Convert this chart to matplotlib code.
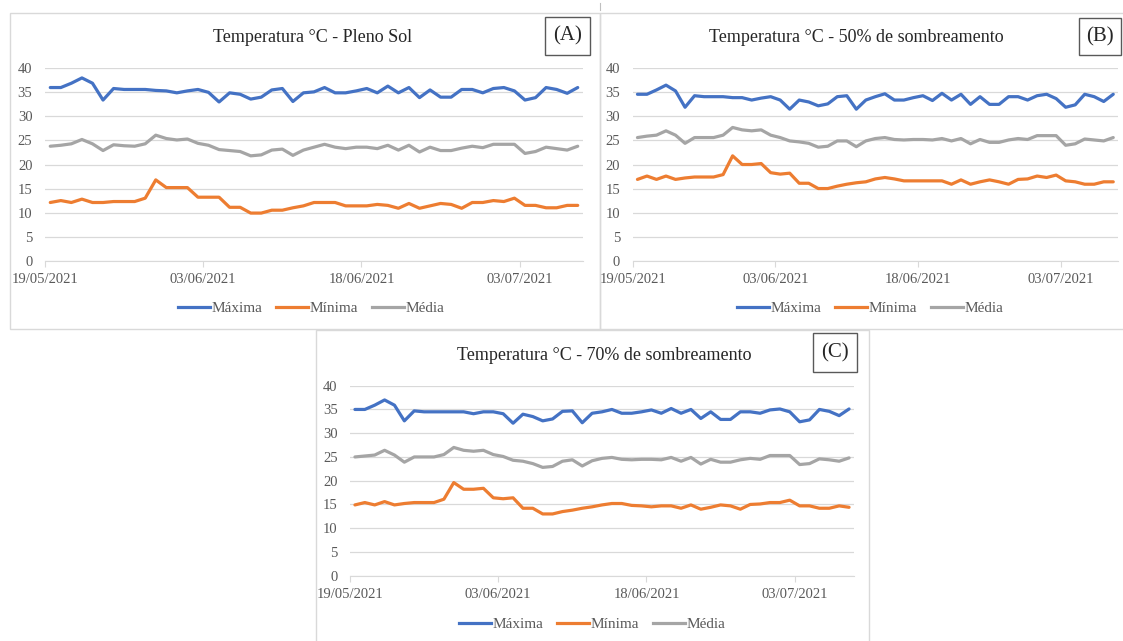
import matplotlib
matplotlib.use("Agg")
import matplotlib.pyplot as plt
from matplotlib.lines import Line2D
from matplotlib.patches import Rectangle
import pandas as pd

plt.rcParams['font.family'] = ['Liberation Serif', 'DejaVu Serif']

# Daily temperatures (°C), 19/05/2021 .. 08/07/2021
start_date = "2021-05-19"
n_days = 51
tick_dates = ["2021-05-19", "2021-06-03", "2021-06-18", "2021-07-03"]
series_names = ["Máxima", "Mínima", "Média"]

sol_max = [36.0, 36.0, 36.9, 38.0, 36.9, 33.4, 35.8, 35.6, 35.6, 35.6,
           35.4, 35.3, 34.9, 35.3, 35.6, 35.0, 33.0, 34.9, 34.6, 33.6,
           34.0, 35.5, 35.8, 33.1, 34.9, 35.1, 36.0, 34.9, 34.9, 35.3,
           35.8, 34.9, 36.3, 34.9, 36.0, 33.9, 35.5, 34.0, 34.0, 35.6,
           35.6, 34.9, 35.8, 36.0, 35.3, 33.4, 33.9, 36.0, 35.6, 34.8, 36.0]
sol_min = [12.1, 12.5, 12.1, 12.8, 12.1, 12.1, 12.3, 12.3, 12.3, 13.0,
           16.8, 15.2, 15.2, 15.2, 13.2, 13.2, 13.2, 11.1, 11.1, 9.9,
           9.9, 10.5, 10.5, 11.0, 11.4, 12.1, 12.1, 12.1, 11.4, 11.4,
           11.4, 11.7, 11.5, 10.9, 11.9, 10.9, 11.4, 11.9, 11.7, 10.9,
           12.1, 12.1, 12.5, 12.3, 13.0, 11.5, 11.5, 11.0, 11.0, 11.5, 11.5]
sol_med = [23.8, 24.0, 24.3, 25.2, 24.3, 22.9, 24.1, 23.9, 23.8, 24.3,
           26.1, 25.4, 25.1, 25.3, 24.4, 24.0, 23.1, 22.9, 22.7, 21.8,
           22.0, 23.0, 23.2, 21.9, 23.0, 23.6, 24.2, 23.6, 23.3, 23.6,
           23.6, 23.3, 24.0, 23.0, 24.0, 22.6, 23.6, 22.9, 22.9, 23.4,
           23.8, 23.5, 24.2, 24.2, 24.2, 22.3, 22.7, 23.6, 23.3, 23.0, 23.8]

s50_max = [34.6, 34.6, 35.5, 36.5, 35.3, 31.9, 34.3, 34.1, 34.1, 34.1,
           33.9, 33.9, 33.4, 33.8, 34.1, 33.4, 31.5, 33.4, 33.0, 32.2,
           32.6, 34.1, 34.3, 31.5, 33.4, 34.1, 34.7, 33.4, 33.4, 33.9,
           34.3, 33.3, 34.8, 33.4, 34.6, 32.5, 34.1, 32.5, 32.5, 34.1,
           34.1, 33.4, 34.3, 34.6, 33.7, 31.9, 32.4, 34.6, 34.1, 33.1, 34.6]
s50_min = [16.9, 17.6, 16.9, 17.6, 16.9, 17.2, 17.4, 17.4, 17.4, 17.9,
           21.8, 20.0, 20.0, 20.2, 18.3, 18.0, 18.2, 16.1, 16.1, 15.0,
           15.0, 15.5, 15.9, 16.2, 16.4, 17.0, 17.3, 17.0, 16.6, 16.6,
           16.6, 16.6, 16.6, 15.9, 16.8, 15.9, 16.4, 16.8, 16.4, 15.9,
           16.9, 17.0, 17.6, 17.3, 17.8, 16.6, 16.4, 15.9, 15.9, 16.4, 16.4]
s50_med = [25.6, 25.9, 26.1, 27.0, 26.1, 24.4, 25.6, 25.6, 25.6, 26.1,
           27.7, 27.2, 27.0, 27.2, 26.1, 25.6, 24.9, 24.7, 24.4, 23.6,
           23.8, 24.9, 24.9, 23.7, 24.9, 25.4, 25.6, 25.2, 25.1, 25.2,
           25.2, 25.1, 25.4, 24.9, 25.4, 24.3, 25.2, 24.6, 24.6, 25.1,
           25.4, 25.2, 26.0, 26.0, 26.0, 24.0, 24.3, 25.3, 25.1, 24.9, 25.6]

s70_max = [35.0, 35.0, 35.9, 37.0, 35.9, 32.6, 34.7, 34.5, 34.5, 34.5,
           34.5, 34.5, 34.1, 34.5, 34.5, 34.1, 32.1, 34.0, 33.5, 32.6,
           33.0, 34.6, 34.7, 32.2, 34.2, 34.5, 35.0, 34.2, 34.2, 34.5,
           34.9, 34.2, 35.2, 34.2, 35.0, 33.1, 34.5, 32.9, 32.9, 34.5,
           34.5, 34.2, 34.9, 35.1, 34.5, 32.4, 32.8, 35.0, 34.6, 33.7, 35.1]
s70_min = [14.9, 15.4, 14.9, 15.6, 14.9, 15.2, 15.4, 15.4, 15.4, 16.1,
           19.6, 18.2, 18.2, 18.4, 16.4, 16.2, 16.4, 14.2, 14.2, 13.0,
           13.0, 13.5, 13.8, 14.2, 14.5, 14.9, 15.2, 15.2, 14.8, 14.7,
           14.5, 14.7, 14.7, 14.2, 14.9, 14.0, 14.4, 14.9, 14.7, 14.0,
           15.0, 15.1, 15.4, 15.4, 15.9, 14.7, 14.7, 14.2, 14.2, 14.7, 14.4]
s70_med = [25.0, 25.2, 25.4, 26.4, 25.4, 23.9, 25.0, 25.0, 25.0, 25.5,
           27.0, 26.4, 26.2, 26.4, 25.5, 25.1, 24.3, 24.1, 23.6, 22.8,
           23.0, 24.1, 24.4, 23.1, 24.2, 24.7, 24.9, 24.5, 24.4, 24.5,
           24.5, 24.4, 24.9, 24.1, 24.9, 23.5, 24.5, 23.9, 23.9, 24.4,
           24.7, 24.5, 25.3, 25.3, 25.3, 23.4, 23.6, 24.6, 24.4, 24.1, 24.8]

titles = ["Temperatura °C - Pleno Sol",
          "Temperatura °C - 50% de sombreamento",
          "Temperatura °C - 70% de sombreamento"]
panel_tags = ["(A)", "(B)", "(C)"]

colors = ["#4472C4", "#ED7D31", "#A5A5A5"]
TEXT = "#595959"
GRID = "#D9D9D9"

W, H = 1123, 641
fig = plt.figure(figsize=(W / 100, H / 100), dpi=100)

def fx(px):
    return px / W

def fy(py):
    return 1 - py / H

dates = pd.date_range(start_date, periods=n_days)
t0 = dates[0]
xvals = [(d - t0).days + 0.5 for d in dates]
tick_pos = [(pd.Timestamp(d) - t0).days for d in tick_dates]
tick_lab = [pd.Timestamp(d).strftime("%d/%m/%Y") for d in tick_dates]

# panel frame (pixels): box, plot area, title/tag/legend placement
panels = [
    dict(box=(10, 13, 600, 329), plot=(45, 68.3, 583, 260.7),
         title=(313, 37), tag=(545, 17, 590, 55), legend=(311, 308),
         data=(sol_max, sol_min, sol_med)),
    dict(box=(600, 13, 1130, 329), plot=(632.7, 68.3, 1118, 260.7),
         title=(856, 37), tag=(1079, 18, 1121, 55), legend=(870, 308),
         data=(s50_max, s50_min, s50_med)),
    dict(box=(316, 330, 869, 650), plot=(350, 385.7, 854, 575.7),
         title=(604, 355), tag=(813, 333, 857, 372), legend=(592, 624),
         data=(s70_max, s70_min, s70_med)),
]

for p in panels:
    bx0, by0, bx1, by1 = p["box"]
    fig.patches.append(Rectangle((fx(bx0), fy(by1)), fx(bx1 - bx0), (by1 - by0) / H,
                                 transform=fig.transFigure, facecolor="none",
                                 edgecolor=GRID, lw=1.0, zorder=-1))

for k, p in enumerate(panels):
    x0, y0, x1, y1 = p["plot"]
    ax = fig.add_axes([fx(x0), fy(y1), fx(x1 - x0), (y1 - y0) / H])
    ax.set_facecolor("none")
    for vals, c, name in zip(p["data"], colors, series_names):
        ax.plot(xvals, vals, color=c, lw=2.3, solid_joinstyle="round",
                solid_capstyle="round", label=name)
    ax.set_xlim(0, n_days)
    ax.set_ylim(0, 40)
    ax.set_yticks(range(0, 41, 5))
    ax.yaxis.grid(True, color=GRID, lw=0.9)
    ax.set_axisbelow(True)
    ax.set_xticks(tick_pos)
    ax.set_xticklabels(tick_lab)
    for s in ("top", "right", "left"):
        ax.spines[s].set_visible(False)
    ax.spines["bottom"].set_color(GRID)
    ax.tick_params(axis="y", length=0, pad=9, labelsize=10.5, labelcolor=TEXT)
    ax.tick_params(axis="x", length=4, color=GRID, pad=5, labelsize=10.5,
                   labelcolor=TEXT)

    tx, ty = p["title"]
    fig.text(fx(tx), fy(ty), titles[k], ha="center", va="center",
             fontsize=13, color="#262626")

    gx0, gy0, gx1, gy1 = p["tag"]
    fig.patches.append(Rectangle((fx(gx0), fy(gy1)), fx(gx1 - gx0), (gy1 - gy0) / H,
                                 transform=fig.transFigure, facecolor="white",
                                 edgecolor="#595959", lw=1.0, zorder=2))
    fig.text(fx((gx0 + gx1) / 2), fy((gy0 + gy1) / 2), panel_tags[k],
             ha="center", va="center", fontsize=15, color="#262626", zorder=3)

    lx, ly = p["legend"]
    handles = [Line2D([], [], color=c, lw=2.3) for c in colors]
    ax.legend(handles, series_names, loc="center", ncol=3, frameon=False,
              bbox_to_anchor=(fx(lx), fy(ly)), bbox_transform=fig.transFigure,
              handlelength=2.1, handletextpad=0.1, columnspacing=0.9,
              prop={"size": 11}, labelcolor=TEXT)

# small mark above the shared border of the top panels
fig.add_artist(Line2D([fx(600), fx(600)], [fy(3), fy(10)],
                      transform=fig.transFigure, color="#BFBFBF", lw=0.8))

fig.savefig("out.png", dpi=100)
